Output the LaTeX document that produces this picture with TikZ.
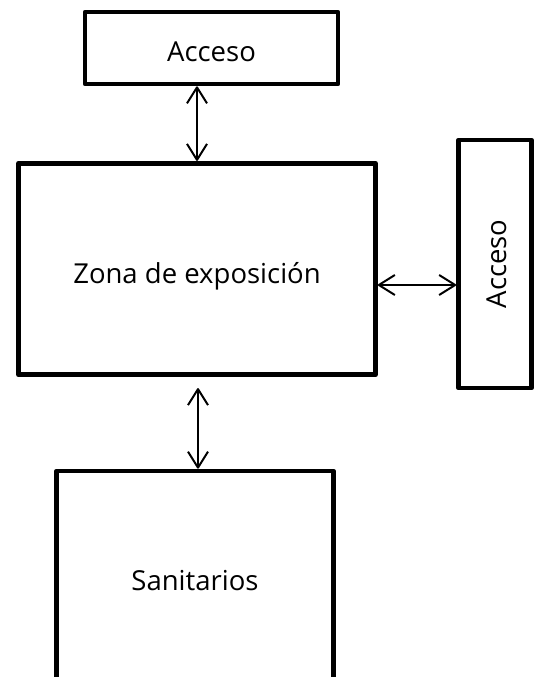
\documentclass[tikz,border=0pt]{standalone}
\usepackage{fontspec}
\setmainfont{Open Sans}
\usetikzlibrary{arrows.meta}
\tikzstyle{every node}=[font=\fontsize{27.5}{32}\selectfont]
\tikzstyle{room}=[draw, line width=4.7pt, line join=round, inner sep=0pt, text height=28pt, text depth=0pt]
\tikzstyle{link}=[line width=2pt, line cap=round, {Straight Barb[length=16pt,width=20pt,line join=round]}-{Straight Barb[length=16pt,width=20pt,line join=round]}]

\begin{document}
\begin{tikzpicture}[x=1pt,y=-1pt]
%Plan of the exhibition hall
	\useasboundingbox (0,0) rectangle (539,677);
	\clip (0,0) rectangle (539,677); %% the toilets run past the bottom edge
	\node[room, minimum width=253pt, minimum height=72pt] (acctop) at (211.5,48) {Acceso}; %% acctop is the upper entrance
	\node[room, minimum width=357pt, minimum height=211.5pt] (zona) at (197,269) {Zona de exposici\'on};
	\node[room, minimum width=73pt, minimum height=248pt] (accside) at (495,264) {}; %% accside is the side entrance
	\node[rotate=90] (accsidetxt) at ([xshift=2pt]accside) {Acceso};
	\node[room, minimum width=277pt, minimum height=211pt] (san) at (195,576.5) {Sanitarios};
	% Links
	\draw[link] (acctop.south -| zona.north) -- (zona.north);
	\draw[link] ([yshift=-16pt]zona.east) -- ([yshift=-16pt]zona.east -| accside.west);
	\draw[link, shorten <=11pt] ([xshift=1pt]zona.south) -- ([xshift=1pt]zona.south |- san.north);
\end{tikzpicture}
\end{document}
